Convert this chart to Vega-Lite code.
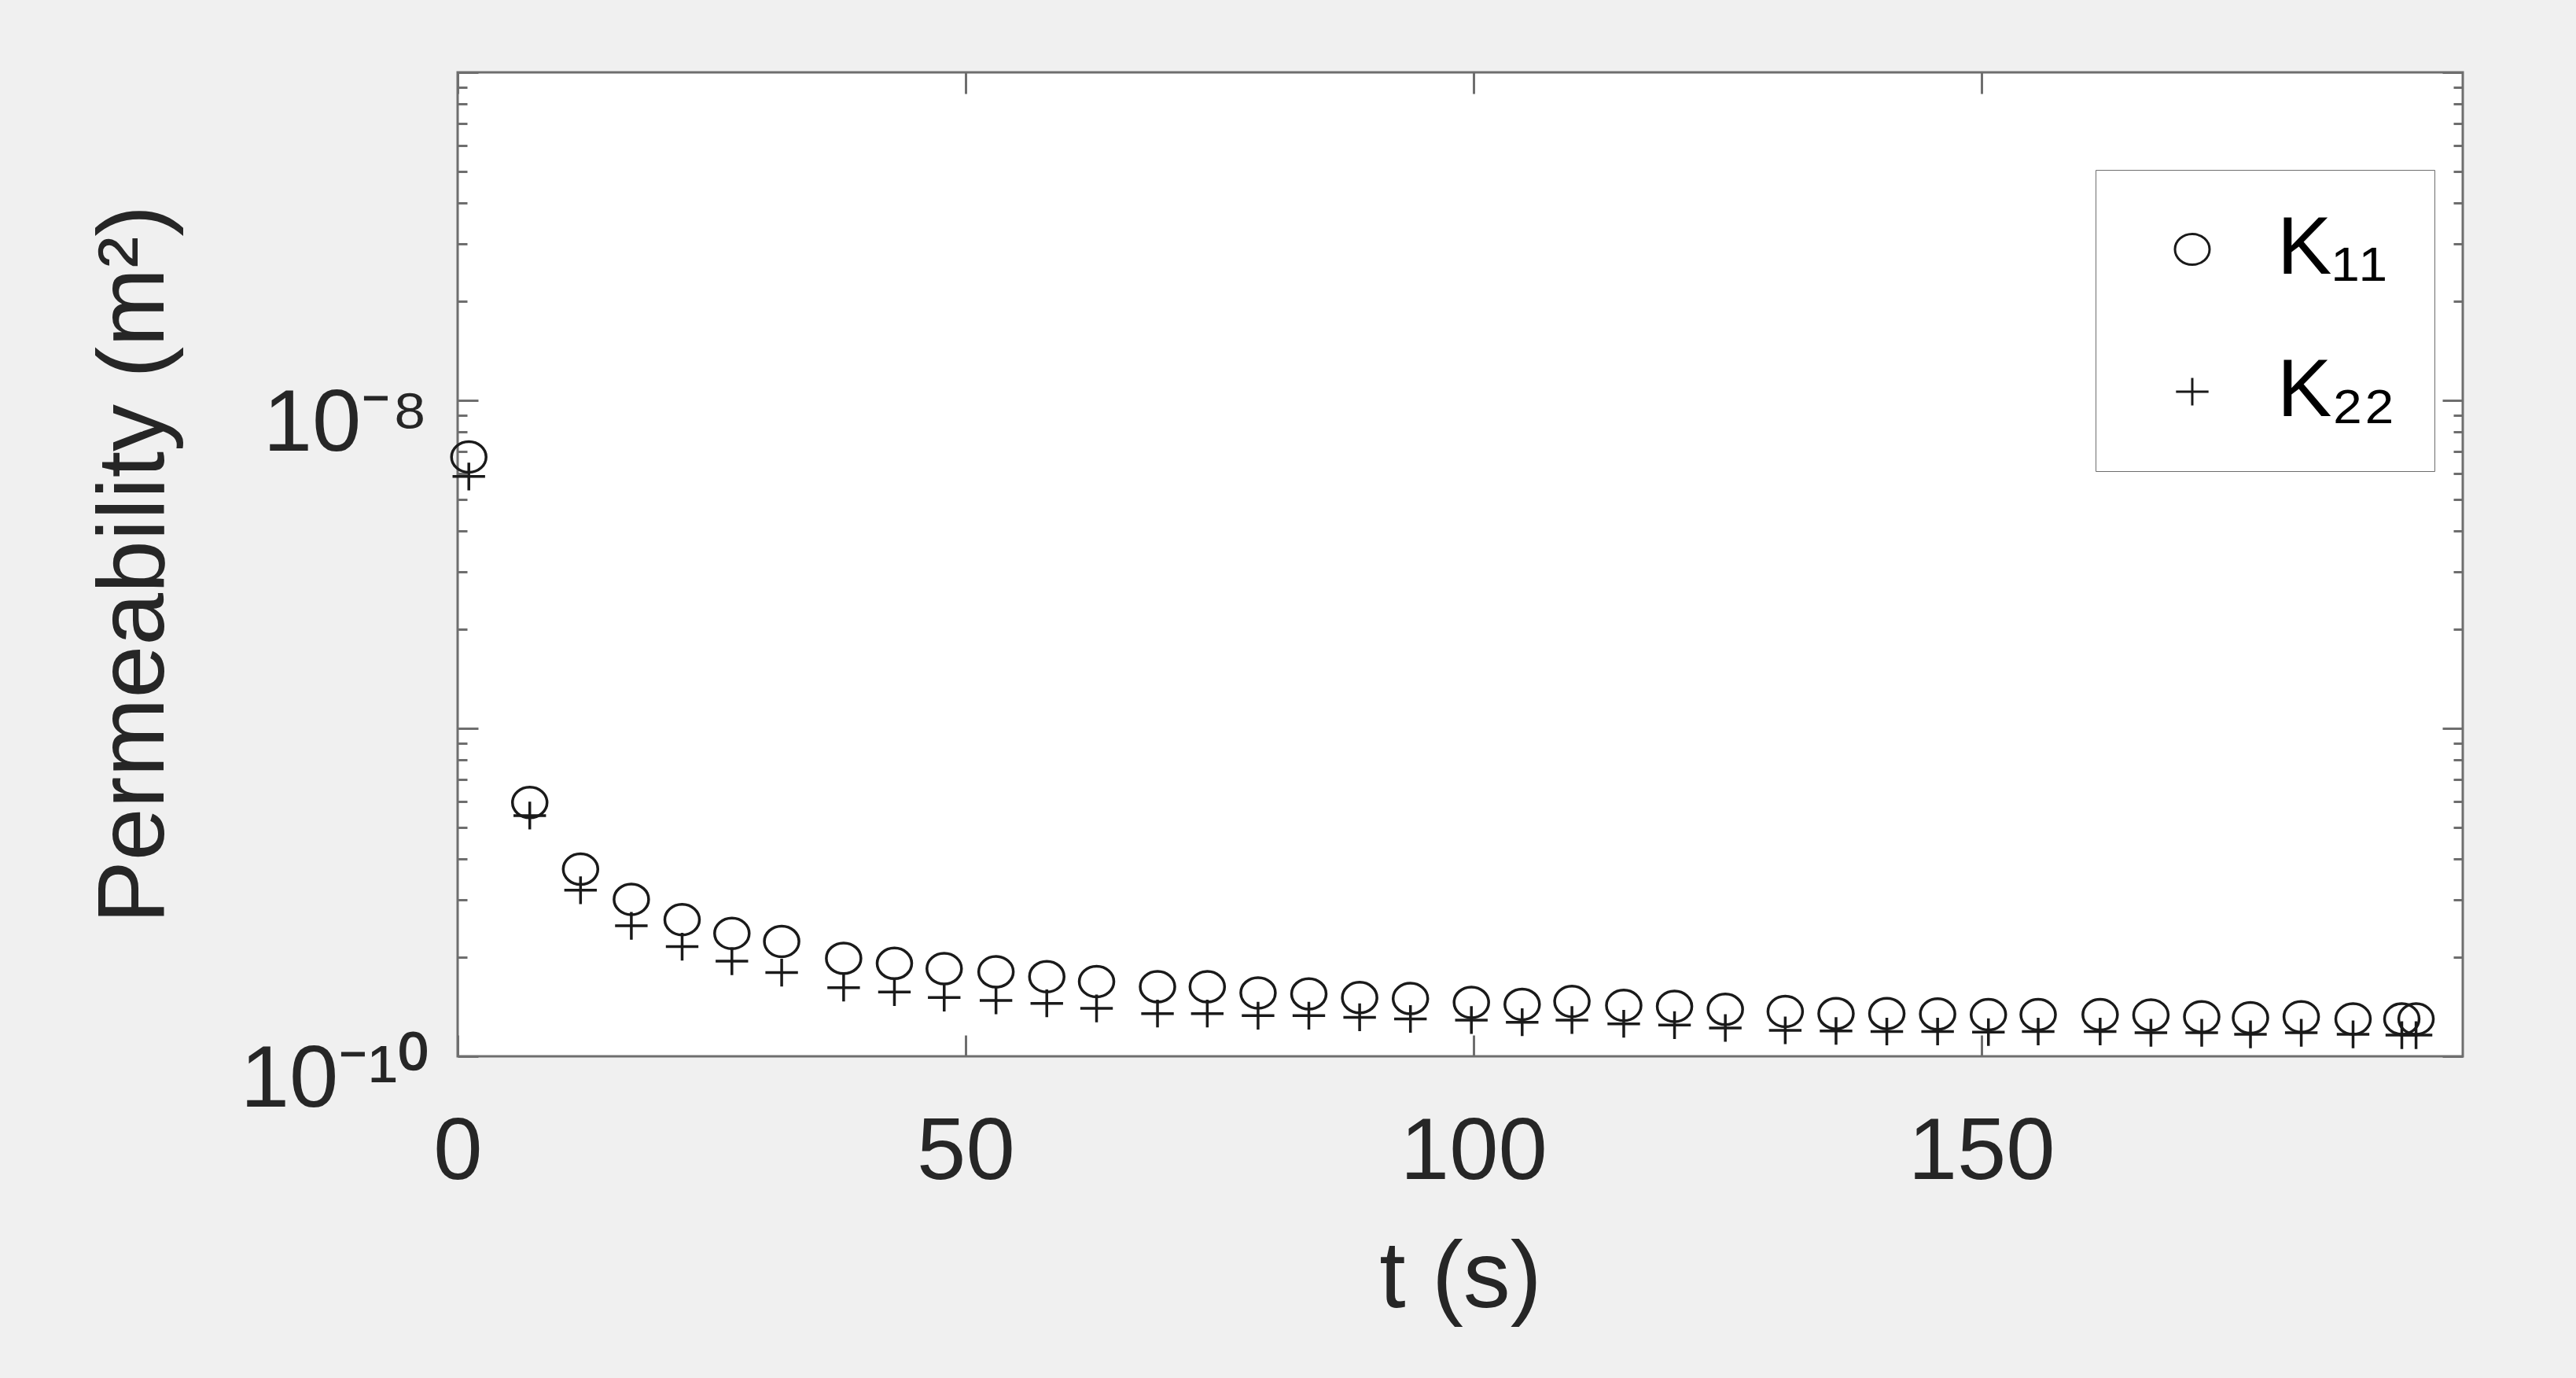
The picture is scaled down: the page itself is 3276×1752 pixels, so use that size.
{
  "$schema": "https://vega.github.io/schema/vega-lite/v6.json",
  "width": 2550,
  "height": 1251,
  "autosize": {"type": "none"},
  "padding": {"left": 582, "top": 92, "right": 144, "bottom": 409},
  "background": "#f0f0f0",
  "config": {
    "view": {"fill": "white", "stroke": "#6e6e6e", "strokeWidth": 3},
    "font": "Liberation Sans",
    "axis": {
      "grid": false, "domain": false, "tickColor": "#6e6e6e", "tickWidth": 3,
      "labelColor": "#262626", "titleColor": "#262626",
      "labelFont": "Liberation Sans", "titleFont": "Liberation Sans",
      "labelFontSize": 112, "titleFontSize": 120, "titleFontWeight": "normal",
      "labelFlush": false, "labelOverlap": false, "labelBound": false, "labelLimit": 0, "titleLimit": 0
    }
  },
  "datasets": {
    "perm": [
      {"t": 1.1, "series": "K₁₁", "k": 6.72e-9}, {"t": 1.1, "series": "K₂₂", "k": 5.86e-9},
      {"t": 7.1, "series": "K₁₁", "k": 5.94e-10}, {"t": 7.1, "series": "K₂₂", "k": 5.42e-10},
      {"t": 12.1, "series": "K₁₁", "k": 3.72e-10}, {"t": 12.1, "series": "K₂₂", "k": 3.21e-10},
      {"t": 17.1, "series": "K₁₁", "k": 3.01e-10}, {"t": 17.1, "series": "K₂₂", "k": 2.50e-10},
      {"t": 22.1, "series": "K₁₁", "k": 2.61e-10}, {"t": 22.1, "series": "K₂₂", "k": 2.16e-10},
      {"t": 27.0, "series": "K₁₁", "k": 2.37e-10}, {"t": 27.0, "series": "K₂₂", "k": 1.95e-10},
      {"t": 31.9, "series": "K₁₁", "k": 2.24e-10}, {"t": 31.9, "series": "K₂₂", "k": 1.80e-10},
      {"t": 38.0, "series": "K₁₁", "k": 1.99e-10}, {"t": 38.0, "series": "K₂₂", "k": 1.62e-10},
      {"t": 43.0, "series": "K₁₁", "k": 1.92e-10}, {"t": 43.0, "series": "K₂₂", "k": 1.57e-10},
      {"t": 47.9, "series": "K₁₁", "k": 1.85e-10}, {"t": 47.9, "series": "K₂₂", "k": 1.51e-10},
      {"t": 53.0, "series": "K₁₁", "k": 1.81e-10}, {"t": 53.0, "series": "K₂₂", "k": 1.48e-10},
      {"t": 58.0, "series": "K₁₁", "k": 1.75e-10}, {"t": 58.0, "series": "K₂₂", "k": 1.45e-10},
      {"t": 62.9, "series": "K₁₁", "k": 1.69e-10}, {"t": 62.9, "series": "K₂₂", "k": 1.40e-10},
      {"t": 68.9, "series": "K₁₁", "k": 1.63e-10}, {"t": 68.9, "series": "K₂₂", "k": 1.35e-10},
      {"t": 73.8, "series": "K₁₁", "k": 1.63e-10}, {"t": 73.8, "series": "K₂₂", "k": 1.35e-10},
      {"t": 78.8, "series": "K₁₁", "k": 1.56e-10}, {"t": 78.8, "series": "K₂₂", "k": 1.33e-10},
      {"t": 83.8, "series": "K₁₁", "k": 1.55e-10}, {"t": 83.8, "series": "K₂₂", "k": 1.33e-10},
      {"t": 88.8, "series": "K₁₁", "k": 1.51e-10}, {"t": 88.8, "series": "K₂₂", "k": 1.315e-10},
      {"t": 93.8, "series": "K₁₁", "k": 1.50e-10}, {"t": 93.8, "series": "K₂₂", "k": 1.30e-10},
      {"t": 99.8, "series": "K₁₁", "k": 1.46e-10}, {"t": 99.8, "series": "K₂₂", "k": 1.29e-10},
      {"t": 104.8, "series": "K₁₁", "k": 1.44e-10}, {"t": 104.8, "series": "K₂₂", "k": 1.27e-10},
      {"t": 109.7, "series": "K₁₁", "k": 1.47e-10}, {"t": 109.7, "series": "K₂₂", "k": 1.29e-10},
      {"t": 114.8, "series": "K₁₁", "k": 1.43e-10}, {"t": 114.8, "series": "K₂₂", "k": 1.256e-10},
      {"t": 119.8, "series": "K₁₁", "k": 1.42e-10}, {"t": 119.8, "series": "K₂₂", "k": 1.245e-10},
      {"t": 124.8, "series": "K₁₁", "k": 1.39e-10}, {"t": 124.8, "series": "K₂₂", "k": 1.22e-10},
      {"t": 130.7, "series": "K₁₁", "k": 1.37e-10}, {"t": 130.7, "series": "K₂₂", "k": 1.20e-10},
      {"t": 135.7, "series": "K₁₁", "k": 1.35e-10}, {"t": 135.7, "series": "K₂₂", "k": 1.195e-10},
      {"t": 140.7, "series": "K₁₁", "k": 1.35e-10}, {"t": 140.7, "series": "K₂₂", "k": 1.19e-10},
      {"t": 145.7, "series": "K₁₁", "k": 1.345e-10}, {"t": 145.7, "series": "K₂₂", "k": 1.19e-10},
      {"t": 150.7, "series": "K₁₁", "k": 1.34e-10}, {"t": 150.7, "series": "K₂₂", "k": 1.185e-10},
      {"t": 155.6, "series": "K₁₁", "k": 1.34e-10}, {"t": 155.6, "series": "K₂₂", "k": 1.19e-10},
      {"t": 161.7, "series": "K₁₁", "k": 1.34e-10}, {"t": 161.7, "series": "K₂₂", "k": 1.19e-10},
      {"t": 166.7, "series": "K₁₁", "k": 1.336e-10}, {"t": 166.7, "series": "K₂₂", "k": 1.18e-10},
      {"t": 171.7, "series": "K₁₁", "k": 1.32e-10}, {"t": 171.7, "series": "K₂₂", "k": 1.18e-10},
      {"t": 176.5, "series": "K₁₁", "k": 1.31e-10}, {"t": 176.5, "series": "K₂₂", "k": 1.167e-10},
      {"t": 181.5, "series": "K₁₁", "k": 1.32e-10}, {"t": 181.5, "series": "K₂₂", "k": 1.18e-10},
      {"t": 186.6, "series": "K₁₁", "k": 1.30e-10}, {"t": 186.6, "series": "K₂₂", "k": 1.167e-10},
      {"t": 191.4, "series": "K₁₁", "k": 1.30e-10}, {"t": 191.4, "series": "K₂₂", "k": 1.16e-10},
      {"t": 192.8, "series": "K₁₁", "k": 1.30e-10}, {"t": 192.8, "series": "K₂₂", "k": 1.16e-10}
    ]
  },
  "data": {"name": "perm"},
  "layer": [
    {
      "mark": {"type": "point", "filled": false, "strokeWidth": 3.5, "color": "#1a1a1a", "opacity": 1, "size": 1936},
      "encoding": {
        "x": {
          "field": "t", "type": "quantitative",
          "scale": {"domain": [0, 197.4], "nice": false, "zero": false},
          "axis": {"orient": "bottom", "values": [0, 50, 100, 150], "tickSize": -27, "labelPadding": 182, "labelBaseline": "alphabetic", "format": "d", "title": "t (s)", "titleBaseline": "alphabetic", "titleX": 1275, "titleY": 318, "titleAnchor": "middle", "titleAlign": "center"}
        },
        "y": {
          "field": "k", "type": "quantitative",
          "scale": {"type": "log", "domain": [1e-10, 1e-7], "nice": false},
          "axis": {"orient": "left", "values": [1e-10, 1e-9, 1e-8, 1e-7], "tickSize": -26, "labelPadding": 64, "labelBaseline": "alphabetic", "labelOffset": 63, "labelAlign": "right",
            "labelExpr": "round(log(datum.value)/LN10) == -8 ? '10⁻⁸' : (round(log(datum.value)/LN10) == -10 ? '10⁻¹⁰' : '')",
            "title": "Permeability (m²)", "titleBaseline": "alphabetic", "titleAngle": -90, "titleX": -375, "titleY": 625, "titleAlign": "center", "titleAnchor": "middle"}
        },
        "shape": {
          "field": "series", "type": "nominal",
          "scale": {"domain": ["K₁₁", "K₂₂"], "range": ["M-1,0A1,0.886,0,1,1,1,0A1,0.886,0,1,1,-1,0Z", "M-0.94,0H0.94M0,-0.8V0.8"]},
          "legend": {
            "title": null, "orient": "none", "legendX": 2083, "legendY": 124,
            "fillColor": "white", "strokeColor": "#6e6e6e", "padding": 49,
            "labelFontSize": 104, "labelFont": "Liberation Sans", "labelColor": "#000000", "labelLimit": 0,
            "symbolSize": 1936, "symbolStrokeWidth": 3, "symbolStrokeColor": "#1a1a1a", "symbolFillColor": "transparent",
            "rowPadding": 77, "symbolOffset": 22, "labelOffset": 56,
            "encode": {"legend": {"update": {"strokeWidth": {"value": 3}}}}
          }
        }
      }
    },
    {
      "mark": {"type": "point", "opacity": 0},
      "encoding": {
        "x": {"field": "t", "type": "quantitative", "scale": {"domain": [0, 197.4], "nice": false, "zero": false},
          "axis": {"orient": "top", "values": [0, 50, 100, 150], "labels": false, "tickSize": -27, "title": null}},
        "y": {"field": "k", "type": "quantitative", "scale": {"type": "log", "domain": [1e-10, 1e-7], "nice": false},
          "axis": {"orient": "left", "values": [2e-10, 3e-10, 4e-10, 5e-10, 6e-10, 7e-10, 8e-10, 9e-10, 2e-9, 3e-9, 4e-9, 5e-9, 6e-9, 7e-9, 8e-9, 9e-9, 2e-8, 3e-8, 4e-8, 5e-8, 6e-8, 7e-8, 8e-8, 9e-8], "labels": false, "tickSize": -12, "title": null}}
      }
    },
    {
      "mark": {"type": "point", "opacity": 0},
      "encoding": {
        "x": {"field": "t", "type": "quantitative", "scale": {"domain": [0, 197.4], "nice": false, "zero": false}, "axis": null},
        "y": {"field": "k", "type": "quantitative", "scale": {"type": "log", "domain": [1e-10, 1e-7], "nice": false},
          "axis": {"orient": "right", "values": [1e-10, 1e-9, 1e-8, 1e-7], "labels": false, "tickSize": -26, "title": null}}
      }
    },
    {
      "mark": {"type": "point", "opacity": 0},
      "encoding": {
        "x": {"field": "t", "type": "quantitative", "scale": {"domain": [0, 197.4], "nice": false, "zero": false}, "axis": null},
        "y": {"field": "k", "type": "quantitative", "scale": {"type": "log", "domain": [1e-10, 1e-7], "nice": false},
          "axis": {"orient": "right", "values": [2e-10, 3e-10, 4e-10, 5e-10, 6e-10, 7e-10, 8e-10, 9e-10, 2e-9, 3e-9, 4e-9, 5e-9, 6e-9, 7e-9, 8e-9, 9e-9, 2e-8, 3e-8, 4e-8, 5e-8, 6e-8, 7e-8, 8e-8, 9e-8], "labels": false, "tickSize": -12, "title": null}}
      }
    }
  ],
  "resolve": {"axis": {"x": "independent", "y": "independent"}}
}
